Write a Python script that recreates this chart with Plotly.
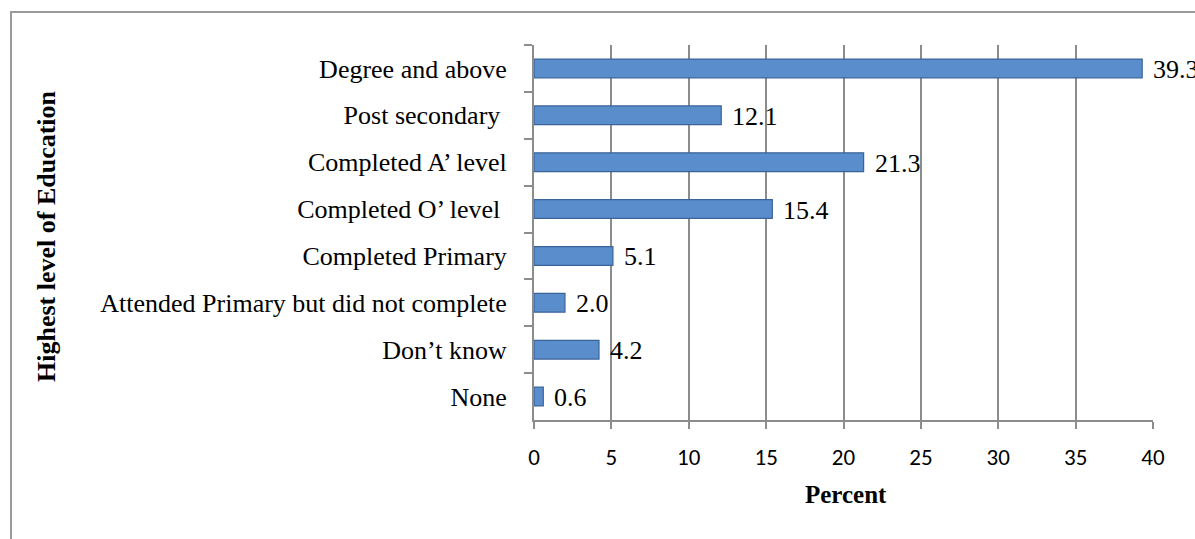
import plotly.graph_objects as go

# Highest level of education, percent of respondents
categories = [
    "Degree and above",
    "Post secondary ",
    "Completed A\u2019 level",
    "Completed O\u2019 level ",
    "Completed Primary",
    "Attended Primary but did not complete",
    "Don\u2019t know",
    "None",
]
percent = [39.3, 12.1, 21.3, 15.4, 5.1, 2.0, 4.2, 0.6]
x_ticks = [0, 5, 10, 15, 20, 25, 30, 35, 40]

GRID = "#8c8c8c"
SERIF = "Liberation Serif, Times New Roman, serif"
SANS = "Carlito, Open Sans, Lato, sans-serif"

L, R, T, B = 534, 42, 45, 119
W, H = 1195, 539
PW, PH = W - L - R, H - T - B


def px_x(px):
    return (px - L) / PW


def px_y(py):
    return (H - B - py) / PH


fig = go.Figure()
fig.add_trace(go.Bar(
    x=percent,
    y=categories,
    orientation="h",
    marker=dict(color="#5a8dcc", line=dict(color="#3a6499", width=1.2)),
    width=0.4,
    cliponaxis=False,
    hoverinfo="x+y",
))

# value labels to the right of each bar
for cat, val in zip(categories, percent):
    fig.add_annotation(
        x=val, y=cat, text=f"{val:.1f}", showarrow=False,
        xanchor="left", xshift=9, yshift=-1,
        font=dict(family=SERIF, size=26, color="black"),
    )

# y-axis title
fig.add_annotation(
    text="<b>Highest level of Education</b>", textangle=-90,
    xref="paper", yref="paper", x=px_x(46), y=px_y(236),
    xanchor="center", yanchor="middle", showarrow=False,
    font=dict(family=SERIF, size=26, color="black"),
)

# x-axis title
fig.add_annotation(
    text="<b>Percent</b>",
    xref="paper", yref="paper", x=px_x(846), y=px_y(494),
    xanchor="center", yanchor="middle", showarrow=False,
    font=dict(family=SERIF, size=25, color="black"),
)

# outer chart frame
fig.add_shape(
    type="rect", xref="paper", yref="paper",
    x0=px_x(11), y0=px_y(600), x1=px_x(1300), y1=px_y(12),
    line=dict(color="#9a9a9a", width=2), layer="below",
)

fig.update_layout(
    width=W, height=H,
    margin=dict(l=L, r=R, t=T, b=B),
    plot_bgcolor="white", paper_bgcolor="white",
    showlegend=False,
    bargap=0.6,
    xaxis=dict(
        range=[0, 40], tickvals=x_ticks,
        showgrid=True, gridcolor=GRID, gridwidth=2,
        showline=True, linecolor=GRID, linewidth=2,
        ticks="outside", ticklen=7, tickcolor=GRID, tickwidth=2,
        ticklabelstandoff=8,
        tickfont=dict(family=SANS, size=23, color="black"),
        zeroline=False,
    ),
    yaxis=dict(
        categoryorder="array", categoryarray=categories,
        autorange="reversed",
        showline=True, linecolor=GRID, linewidth=2,
        ticks="outside", ticklen=8, tickcolor=GRID, tickwidth=2,
        tickson="boundaries",
        ticklabelstandoff=20,
        tickfont=dict(family=SERIF, size=26, color="black"),
        showgrid=False,
    ),
)

fig.write_html("out.html")
